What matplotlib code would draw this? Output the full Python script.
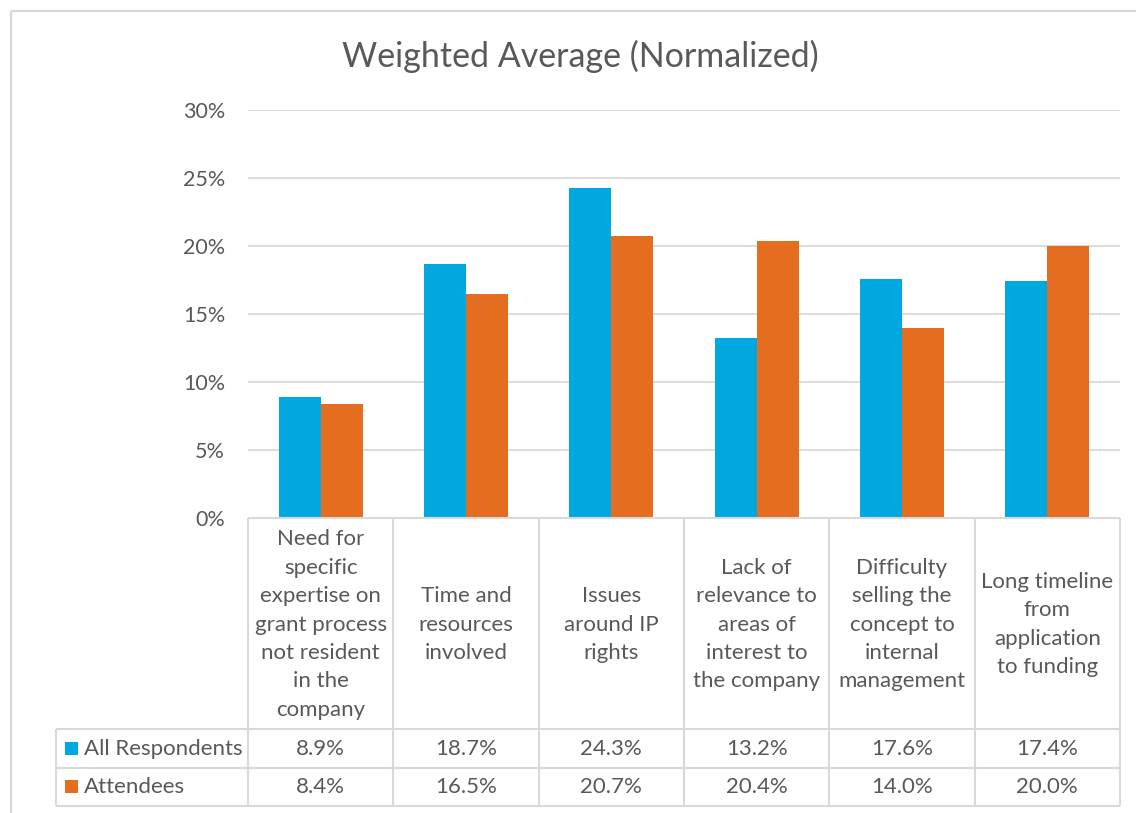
import matplotlib
matplotlib.use("Agg")
import matplotlib.pyplot as plt
import numpy as np
from matplotlib.ticker import FuncFormatter

# ---- data ----
categories = [
    "Need for\nspecific\nexpertise on\ngrant process\nnot resident\nin the\ncompany",
    "Time and\nresources\ninvolved",
    "Issues\naround IP\nrights",
    "Lack of\nrelevance to\nareas of\ninterest to\nthe company",
    "Difficulty\nselling the\nconcept to\ninternal\nmanagement",
    "Long timeline\nfrom\napplication\nto funding",
]
series_names = ["All Respondents", "Attendees"]
all_respondents = [8.9, 18.7, 24.3, 13.2, 17.6, 17.4]
attendees = [8.4, 16.5, 20.7, 20.4, 14.0, 20.0]
yticks = [0, 5, 10, 15, 20, 25, 30]
title = "Weighted Average (Normalized)"

# ---- style ----
BLUE = "#00A8E0"
ORANGE = "#E46D1F"
GRID = "#D9D9D9"
TXT = "#595959"
FONT = ["Lato", "DejaVu Sans"]
plt.rcParams["font.family"] = FONT

W, H = 1136, 813
fig = plt.figure(figsize=(W / 100, H / 100), dpi=100)

# plot area (pixel layout)
L, R, T, B = 248, 1120, 110, 518
ax = fig.add_axes([L / W, 1 - B / H, (R - L) / W, (B - T) / H])
x = np.arange(len(categories))
bw = 0.289
ax.bar(x - bw / 2, all_respondents, bw, color=BLUE, zorder=3, label=series_names[0])
ax.bar(x + bw / 2, attendees, bw, color=ORANGE, zorder=3, label=series_names[1])
ax.set_xlim(-0.5, len(categories) - 0.5)
ax.set_ylim(yticks[0], yticks[-1])
ax.set_yticks(yticks)
ax.yaxis.set_major_formatter(FuncFormatter(lambda v, p: f"{v:.0f}%"))
ax.set_xticks([])
ax.tick_params(axis="y", length=0, pad=16.5, labelsize=15.5, labelcolor=TXT)
ax.grid(axis="y", color=GRID, linewidth=1.3, zorder=0)
for s in ax.spines.values():
    s.set_visible(False)

# overlay for table & chart border (pixel coords, y top-down)
ov = fig.add_axes([0, 0, 1, 1], zorder=5)
ov.set_xlim(0, W)
ov.set_ylim(H, 0)
ov.axis("off")
ov.patch.set_alpha(0)

def line(x0, y0, x1, y1, color=GRID, lw=1.5):
    ov.plot([x0, x1], [y0, y1], color=color, linewidth=lw, solid_capstyle="butt")

# outer chart border
line(11, 11, W + 5, 11, lw=1.6)
line(11, 11, 11, H + 5, lw=1.6)

# table geometry
TL = 56
row1, row2, row3 = 729, 768, 806
n = len(categories)
cw = (R - L) / n
bounds = [L + i * cw for i in range(n + 1)]

line(L, B, R, B)
for bx in bounds:
    line(bx, B, bx, row3)
line(TL, row1, TL, row3)
for yy in (row1, row2, row3):
    line(TL, yy, R, yy)

FS = 16
# category labels
for i, c in enumerate(categories):
    ov.text((bounds[i] + bounds[i + 1]) / 2, (B + row1) / 2 + 1, c, ha="center", va="center",
            fontsize=FS, color=TXT, linespacing=1.53)

# value rows
rows = [(all_respondents, BLUE, (row1 + row2) / 2), (attendees, ORANGE, (row2 + row3) / 2)]
for (vals, col, yc), name in zip(rows, series_names):
    for i, v in enumerate(vals):
        ov.text((bounds[i] + bounds[i + 1]) / 2, yc, f"{v:.1f}%", ha="center", va="center",
                fontsize=FS, color=TXT)
    ov.add_patch(plt.Rectangle((65, yc - 7), 13, 13, color=col, lw=0))
    ov.text(84, yc, name, ha="left", va="center", fontsize=FS, color=TXT)

fig.text(580 / W, 1 - 56 / H, title, ha="center", va="center", fontsize=24.5, color=TXT)

fig.savefig("out.png", dpi=100)
